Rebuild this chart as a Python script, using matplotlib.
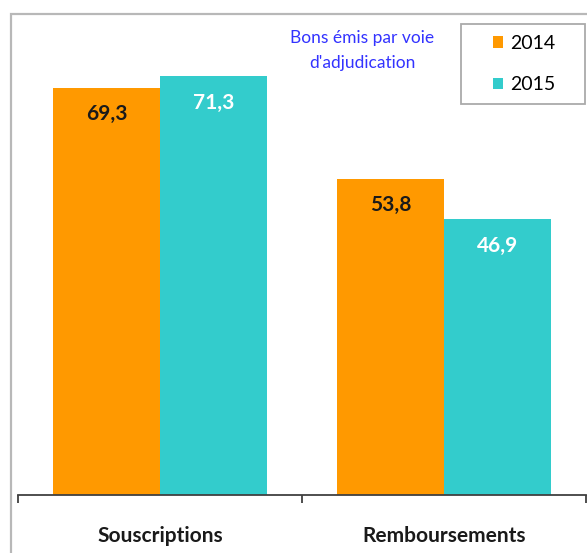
import matplotlib
matplotlib.use("Agg")
import matplotlib.pyplot as plt
from matplotlib.patches import Rectangle
import numpy as np

categories = ["Souscriptions", "Remboursements"]
years = ["2014", "2015"]
values_2014 = [69.3, 53.8]
values_2015 = [71.3, 46.9]
value_labels_2014 = ["69,3", "53,8"]
value_labels_2015 = ["71,3", "46,9"]
note = "Bons émis par voie\nd'adjudication"

W, H = 587, 553
fig = plt.figure(figsize=(W / 100, H / 100), dpi=100)
plt.rcParams['font.family'] = ['Lato', 'DejaVu Sans']

# outer frame
fig.patches.append(Rectangle((11 / W, -0.1), 1.2, 1 - 14 / H + 0.1, transform=fig.transFigure,
                             fill=False, edgecolor='#b8b8b8', linewidth=1.6, zorder=0))

ax = fig.add_axes([18 / W, 1 - 495 / H, (586 - 18) / W, (495 - 25) / H])
ax.patch.set_alpha(0)

orange = '#FF9900'
teal = '#33CCCC'
x = np.arange(len(categories))
bw = 0.377
b1 = ax.bar(x - bw / 2, values_2014, bw, color=orange, label=years[0])
b2 = ax.bar(x + bw / 2, values_2015, bw, color=teal, label=years[1])

for xi, v, lab in zip(x - bw / 2, values_2014, value_labels_2014):
    ax.annotate(lab, (xi, v), xytext=(0, -19), textcoords='offset points',
                ha='center', va='center', fontsize=15, fontweight='bold', color='#1a1a1a')
for xi, v, lab in zip(x + bw / 2, values_2015, value_labels_2015):
    ax.annotate(lab, (xi, v), xytext=(0, -19), textcoords='offset points',
                ha='center', va='center', fontsize=15, fontweight='bold', color='white')

ax.set_xlim(-0.5, len(categories) - 0.5)
ax.set_ylim(0, 80)
ax.set_yticks([])
for s in ['left', 'right', 'top']:
    ax.spines[s].set_visible(False)
ax.spines['bottom'].set_color('#404040')
ax.spines['bottom'].set_linewidth(1.3)

ax.set_xticks(x)
ax.set_xticklabels(categories, fontsize=15, fontweight='bold', color='#1a1a1a')
ax.tick_params(axis='x', which='major', length=0, pad=22)
ax.set_xticks(np.arange(-0.5, len(categories)), minor=True)
ax.tick_params(axis='x', which='minor', length=5.8, width=1.3, color='#404040', direction='out')

fig.text(362 / W, 1 - 50.5 / H, note, ha='center', va='center', fontsize=12.5,
         color='#3333FF', linespacing=1.75)

# legend frame
frame = Rectangle((461 / W, 1 - 104 / H), 124 / W, 80 / H, transform=fig.transFigure,
                  fill=True, facecolor='white', edgecolor='#aaaaaa', linewidth=1.3,
                  zorder=4, clip_on=False)
ax.add_patch(frame)
leg = ax.legend(loc='center', bbox_to_anchor=(524 / W, 1 - 64 / H),
                bbox_transform=fig.transFigure, fontsize=14, handlelength=0.52,
                handleheight=0.52, handletextpad=0.36, labelspacing=1.25, borderpad=0,
                frameon=False, borderaxespad=0)
leg.set_zorder(5)

fig.savefig("out.png", dpi=100)
